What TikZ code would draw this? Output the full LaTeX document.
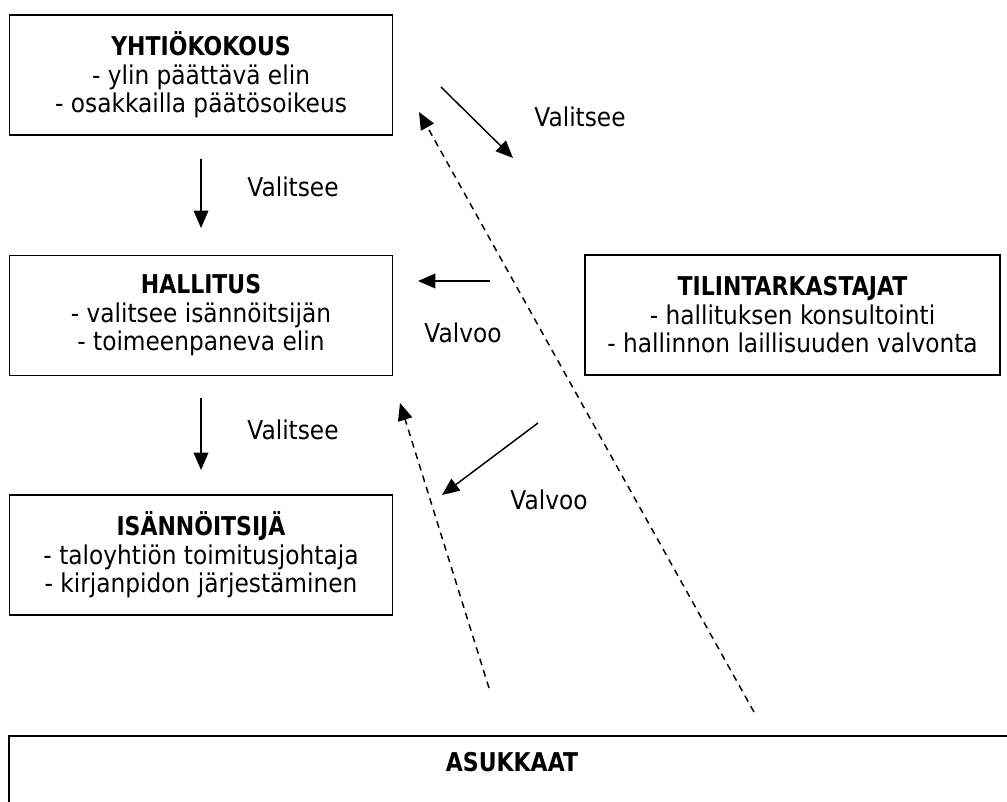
\documentclass[tikz,border=0pt]{standalone}
\usepackage{fontspec}
\setmainfont{DejaVu Sans}[FakeStretch=0.90, BoldFeatures={FakeStretch=0.85}]
\usetikzlibrary{arrows.meta}
\usetikzlibrary{positioning}

\tikzset{
	box/.style={draw, line width=1.3pt, minimum width=287.25pt, minimum height=90pt, align=center, inner sep=0pt},
	arr/.style={-{Triangle[length=13pt,width=11pt]}, line width=1.1pt},
	darr/.style={arr, dash pattern=on 5pt off 4pt},
}

\begin{document}
\begin{tikzpicture}[x=0.75pt, y=-0.75pt, font=\fontsize{19.4pt}{21.4pt}\selectfont]
	\useasboundingbox (0,0) rectangle (1007,802);
	
	% organs
	\node[box] (yhtiokokous) at (201,75) {\textbf{YHTIÖKOKOUS}\\- ylin päättävä elin\\- osakkailla päätösoikeus};
	\node[box] (hallitus) at (201,315.5) {\textbf{HALLITUS}\\- valitsee isännöitsijän\\- toimeenpaneva elin};
	\node[box] (isannoitsija) at (201,555) {\textbf{ISÄNNÖITSIJÄ}\\- taloyhtiön toimitusjohtaja\\- kirjanpidon järjestäminen};
	\node[box, minimum width=311.25pt] (tilintarkastajat) at (792.5,315) {\textbf{TILINTARKASTAJAT}\\- hallituksen konsultointi\\- hallinnon laillisuuden valvonta};
	\draw[line width=1.3pt] (1015,736) -| (9,810);
	\node (asukkaat) at (512,762) {\textbf{ASUKKAAT}};
	
	% free ends of the connectors
	\coordinate (val1a) at (201,159);  \coordinate (val1b) at (201,228);
	\coordinate (val2a) at (201,398);  \coordinate (val2b) at (201,470);
	\coordinate (val3a) at (441,87);   \coordinate (val3b) at (513,158);
	\coordinate (valv1a) at (490,281); \coordinate (valv1b) at (418,281);
	\coordinate (valv2a) at (538,423); \coordinate (valv2b) at (442,495);
	\coordinate (as1) at (754,712);    \coordinate (as1b) at (419,112);
	\coordinate (as2) at (489,688);    \coordinate (as2b) at (400,403);
	
	\foreach \a/\b in {val1a/val1b, val2a/val2b, val3a/val3b, valv1a/valv1b, valv2a/valv2b}
		\draw[arr] (\a) -- (\b);
	\draw[darr] (as1) -- (as1b);
	\draw[darr] (as2) -- (as2b);
	
	\node (lval1) at (293,187) {Valitsee};
	\node (lval2) at (293,430) {Valitsee};
	\node (lval3) at (580,117) {Valitsee};
	\node (lvalv1) at (463,333) {Valvoo};
	\node (lvalv2) at (549,500) {Valvoo};
	
\end{tikzpicture}
\end{document}
